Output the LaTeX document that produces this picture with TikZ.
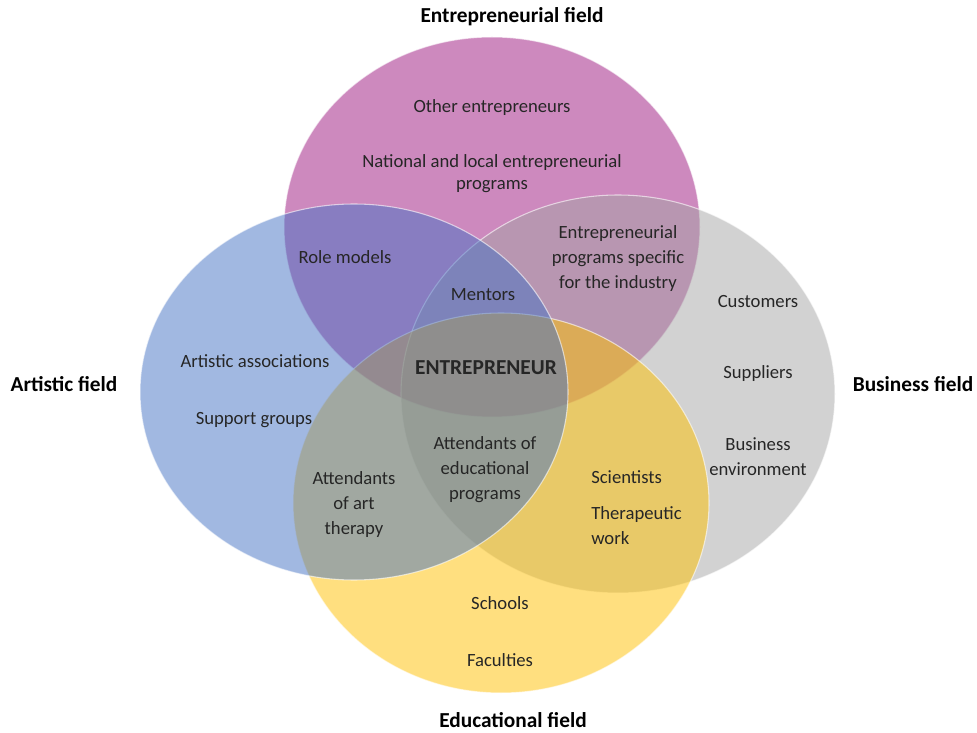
\documentclass[tikz,border=0pt]{standalone}
\usepackage{fontspec}
\setmainfont{Carlito}
\definecolor{entrpink}{RGB}{155,20,125}
\definecolor{artblue}{RGB}{68,114,196}
\definecolor{busgrey}{RGB}{165,165,165}
\definecolor{edugold}{RGB}{255,192,0}
\begin{document}
\begin{tikzpicture}[x=0.75pt,y=0.75pt,
    field/.style={fill opacity=0.5,draw=white,draw opacity=0.6,line width=0.8pt},
    item/.style={align=center,text=black!85,inner sep=0pt,
      font=\fontsize{14}{18.75}\selectfont},
    title/.style={inner sep=0pt,font=\fontsize{16}{19}\selectfont\bfseries}]
  \useasboundingbox (0,0) rectangle (977,732);
  % fields: pink, grey, gold, then blue on top
  \filldraw[field,fill=entrpink] (492,505) ellipse [x radius=208,y radius=190];
  \filldraw[field,fill=busgrey] (618,338) ellipse [x radius=217,y radius=199];
  \filldraw[field,fill=edugold] (501,229) ellipse [x radius=208,y radius=190];
  \filldraw[field,fill=artblue] (354,340) ellipse [x radius=214,y radius=188];

  \node[title] (tentr) at (512,715) {Entrepreneurial field};
  \node[title] (tart) at (64,348) {Artistic field};
  \node[title] (tbus) at (913,348) {Business field};
  \node[title] (tedu) at (513,12) {Educational field};

  \node[item] (others) at (492,624) {Other entrepreneurs};
  \node[item,font=\fontsize{14}{16.5}\selectfont] (natprog) at (492,558) {National and local entrepreneurial\\programs};
  \node[item] (role) at (345,475) {Role models};
  \node[item] (mentors) at (483,437) {Mentors};
  \node[item] (indprog) at (618,473) {Entrepreneurial\\programs specific\\for the industry};
  \node[item] (cust) at (758,430) {Customers};
  \node[item] (supp) at (758,358) {Suppliers};
  \node[item] (busenv) at (758,275) {Business\\environment};
  \node[item] (assoc) at (255,371) {Artistic associations};
  \node[item] (support) at (254,312) {Support groups};
  \node[item,font=\fontsize{16}{19}\selectfont\bfseries] (entr) at (486,364) {ENTREPRENEUR};
  \node[item] (attedu) at (485,262) {Attendants of\\educational\\programs};
  \node[item] (attart) at (354,227) {Attendants\\of art\\therapy};
  \node[item,anchor=west] (sci) at (591,255) {Scientists};
  \node[item,anchor=west,align=left] (therap) at (591,206) {Therapeutic\\work};
  \node[item] (schools) at (500,129) {Schools};
  \node[item] (fac) at (500,72) {Faculties};
\end{tikzpicture}
\end{document}
